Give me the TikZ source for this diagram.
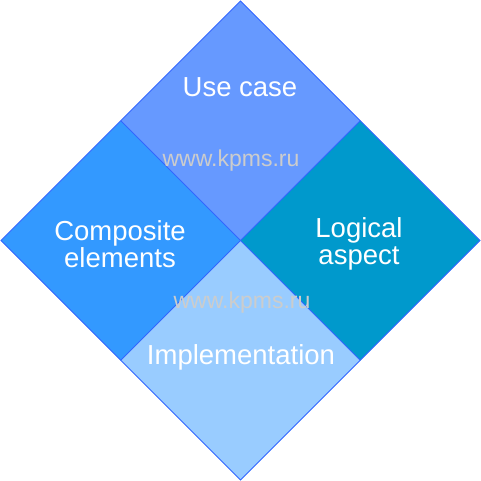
\documentclass[tikz,border=0pt]{standalone}
\usepackage{fontspec}
\setmainfont{Liberation Sans}
\definecolor{cTop}{HTML}{6699FF}
\definecolor{cLeft}{HTML}{3399FF}
\definecolor{cRight}{HTML}{0099CC}
\definecolor{cBot}{HTML}{99CCFF}
\definecolor{cEdge}{HTML}{3366FF}
\definecolor{cMark}{HTML}{CCCCCC}
\begin{document}
\begin{tikzpicture}[x=1pt,y=-1pt,
  tile/.style={draw=cEdge,line width=0.8pt,line join=miter},
  lbl/.style={text=white,font=\fontsize{27.5}{28}\selectfont,align=center,inner sep=0pt},
  wmark/.style={text=cMark,font=\fontsize{23}{24}\selectfont,inner sep=0pt}]
\useasboundingbox (0,0) rectangle (481,481);
\coordinate (T) at (240.5,1);
\coordinate (L) at (1,240.5);
\coordinate (R) at (480,240.5);
\coordinate (B) at (240.5,480);
\coordinate (C) at (240.5,240.5);
\coordinate (TL) at (120.75,120.75);
\coordinate (TR) at (360.25,120.75);
\coordinate (BL) at (120.75,360.25);
\coordinate (BR) at (360.25,360.25);
\fill[cTop] (T) -- (TR) -- (C) -- (TL) -- cycle;
\fill[cLeft] (TL) -- (C) -- (BL) -- (L) -- cycle;
\fill[cRight] (TR) -- (R) -- (BR) -- (C) -- cycle;
\fill[cBot] (C) -- (BR) -- (B) -- (BL) -- cycle;
\draw[tile] (T) -- (R) -- (B) -- (L) -- cycle;
\draw[tile] (TL) -- (BR);
\draw[tile] (TR) -- (BL);
\node[lbl] (uc) at (240,87) {Use case};
\node[lbl] (ce) at (120,244) {Composite\\[-1pt]elements};
\node[lbl] (la) at (359,244) {Logical\\[-1pt]aspect};
\node[lbl] (im) at (241,357) {Implementation};
\node[wmark] (w1) at (231,161) {www.kpms.ru};
\node[wmark] (w2) at (242,303) {www.kpms.ru};
\end{tikzpicture}
\end{document}
